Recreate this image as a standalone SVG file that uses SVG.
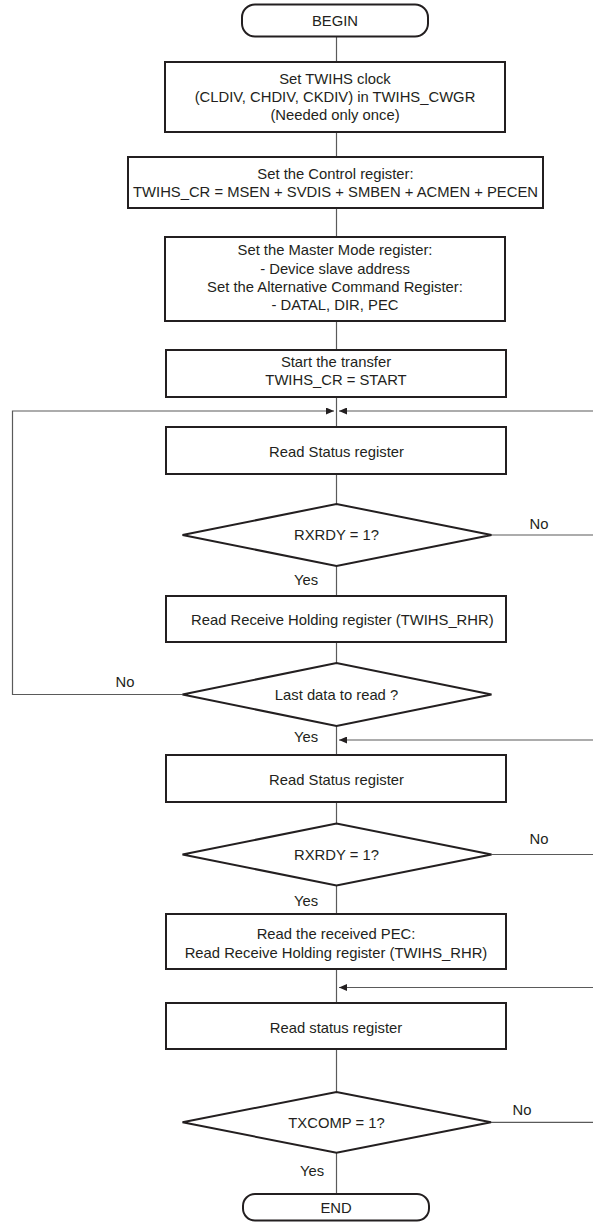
<svg xmlns="http://www.w3.org/2000/svg" width="593" height="1222" viewBox="0 0 593 1222">
<style>
  .box { fill: #fff; stroke: #231f20; stroke-width: 2; }
  .con { fill: none; stroke: #5a5a5a; stroke-width: 1.2; }
  text { font-family: "Liberation Sans", Arial, sans-serif; font-size: 14.8px; fill: #231f20; }
  .c { text-anchor: middle; }
</style>
<defs>
  <marker id="arr" markerUnits="userSpaceOnUse" markerWidth="9" markerHeight="7" refX="8" refY="3.5" orient="auto">
    <path d="M0,0 L8,3.5 L0,7 z" fill="#231f20"/>
  </marker>
</defs>
<rect width="593" height="1222" fill="#fff"/>

<g id="connectors">
  <line class="con" x1="336.5" y1="36.5" x2="336.5" y2="62"/>
  <line class="con" x1="336.5" y1="132" x2="336.5" y2="157"/>
  <line class="con" x1="336.5" y1="208" x2="336.5" y2="237"/>
  <line class="con" x1="336.5" y1="321" x2="336.5" y2="350"/>
  <line class="con" x1="336.5" y1="397" x2="336.5" y2="427"/>
  <path class="con" d="M182.5,694.5 H12.5 V411 H334" marker-end="url(#arr)"/>
  <path class="con" d="M593,411 H339" marker-end="url(#arr)"/>
  <line class="con" x1="336.5" y1="474" x2="336.5" y2="504"/>
  <line class="con" x1="491.5" y1="535" x2="593" y2="535"/>
  <line class="con" x1="336.5" y1="566" x2="336.5" y2="596"/>
  <line class="con" x1="336.5" y1="642" x2="336.5" y2="663"/>
  <line class="con" x1="336.5" y1="726" x2="336.5" y2="755"/>
  <path class="con" d="M593,740 H339" marker-end="url(#arr)"/>
  <line class="con" x1="336.5" y1="802" x2="336.5" y2="823.5"/>
  <line class="con" x1="491.5" y1="854.5" x2="593" y2="854.5"/>
  <line class="con" x1="336.5" y1="885.5" x2="336.5" y2="914"/>
  <line class="con" x1="336.5" y1="969" x2="336.5" y2="1003"/>
  <path class="con" d="M593,987.5 H339" marker-end="url(#arr)"/>
  <line class="con" x1="336.5" y1="1049" x2="336.5" y2="1092"/>
  <line class="con" x1="491" y1="1122.3" x2="593" y2="1122.3"/>
  <line class="con" x1="336.5" y1="1152.7" x2="336.5" y2="1194"/>
  <text class="c" x="539" y="529.3">No</text>
  <text class="c" x="306" y="585.3">Yes</text>
  <text class="c" x="125" y="687">No</text>
  <text class="c" x="306" y="742">Yes</text>
  <text class="c" x="539" y="844.3">No</text>
  <text class="c" x="306" y="906">Yes</text>
  <text class="c" x="522" y="1115.3">No</text>
  <text class="c" x="312" y="1176">Yes</text>
</g>

<g id="begin">
  <rect class="box" x="242" y="4.5" width="186" height="32" rx="13"/>
  <text class="c" x="335" y="26">BEGIN</text>
</g>
<g id="set-clock">
  <rect class="box" x="165" y="62" width="340" height="70"/>
  <text class="c" x="335" y="84.3">Set TWIHS clock</text>
  <text class="c" x="335" y="102">(CLDIV, CHDIV, CKDIV) in TWIHS_CWGR</text>
  <text class="c" x="335" y="120.3">(Needed only once)</text>
</g>
<g id="set-control">
  <rect class="box" x="128" y="157" width="415" height="51"/>
  <text class="c" x="335.5" y="178.6">Set the Control register:</text>
  <text class="c" x="335.5" y="197">TWIHS_CR = MSEN + SVDIS + SMBEN + ACMEN + PECEN</text>
</g>
<g id="set-master">
  <rect class="box" x="165" y="237" width="340" height="84"/>
  <text class="c" x="335" y="255.3">Set the Master Mode register:</text>
  <text class="c" x="335" y="273.6">- Device slave address</text>
  <text class="c" x="335" y="292">Set the Alternative Command Register:</text>
  <text class="c" x="335" y="310.3">- DATAL, DIR, PEC</text>
</g>
<g id="start">
  <rect class="box" x="166" y="350" width="340" height="47"/>
  <text class="c" x="336" y="367">Start the transfer</text>
  <text class="c" x="336" y="385.3">TWIHS_CR = START</text>
</g>
<g id="read-status-1">
  <rect class="box" x="166" y="427" width="340" height="47"/>
  <text class="c" x="336.5" y="457">Read Status register</text>
</g>
<g id="rxrdy-1">
  <polygon class="box" points="182.5,535 336.5,504 491.5,535 336.5,566"/>
  <text class="c" x="336.5" y="540.3">RXRDY = 1?</text>
</g>
<g id="read-rhr">
  <rect class="box" x="166" y="596" width="340" height="46"/>
  <text x="191" y="624.6">Read Receive Holding register (TWIHS_RHR)</text>
</g>
<g id="last-data">
  <polygon class="box" points="182.5,694.5 336.5,663 491.5,694.5 336.5,726"/>
  <text class="c" x="336.5" y="699.6">Last data to read ?</text>
</g>
<g id="read-status-2">
  <rect class="box" x="166" y="755" width="340" height="47"/>
  <text class="c" x="336.5" y="785.3">Read Status register</text>
</g>
<g id="rxrdy-2">
  <polygon class="box" points="182.5,854.5 336.5,823.5 491.5,854.5 336.5,885.5"/>
  <text class="c" x="336.5" y="859.6">RXRDY = 1?</text>
</g>
<g id="read-pec">
  <rect class="box" x="166" y="914" width="340" height="55"/>
  <text class="c" x="336" y="939.3">Read the received PEC:</text>
  <text class="c" x="336" y="957.6">Read Receive Holding register (TWIHS_RHR)</text>
</g>
<g id="read-status-3">
  <rect class="box" x="166" y="1003" width="340" height="46"/>
  <text class="c" x="336" y="1033">Read status register</text>
</g>
<g id="txcomp">
  <polygon class="box" points="182.5,1122.3 336.5,1092 491,1122.3 336.5,1152.7"/>
  <text class="c" x="336.5" y="1127.6">TXCOMP = 1?</text>
</g>
<g id="end">
  <rect class="box" x="243" y="1194" width="186" height="26.5" rx="12"/>
  <text class="c" x="336" y="1213.3">END</text>
</g>
</svg>
